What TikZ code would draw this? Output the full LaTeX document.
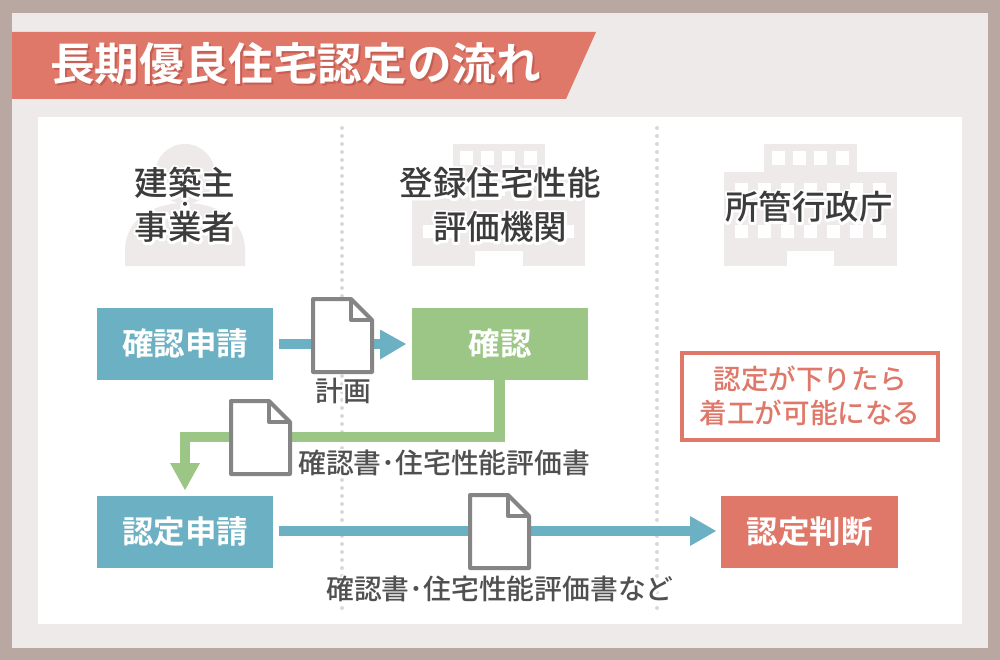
\documentclass[tikz,border=0pt]{standalone}
\usepackage{fontspec}
\setmainfont{Noto Sans CJK JP}
\newfontfamily\halofont[FakeBold=16]{Noto Sans CJK JP}
\newfontfamily\dotfont[FakeBold=20]{Noto Sans CJK JP Bold}
\newfontfamily\medfont{Noto Sans CJK JP Medium}
\newfontfamily\boldfont{Noto Sans CJK JP Bold}
\definecolor{frame}{HTML}{B9A8A2}
\definecolor{panel}{HTML}{EEEAE9}
\definecolor{salmon}{HTML}{DF7869}
\definecolor{shadowc}{HTML}{C55F54}
\definecolor{tealc}{HTML}{6CB1C3}
\definecolor{greenc}{HTML}{9CC686}
\definecolor{docgray}{HTML}{858585}
\definecolor{ink}{HTML}{3C3C3C}
\definecolor{labelc}{HTML}{505050}
\definecolor{dotc}{HTML}{DDD7D6}
\newcommand{\halotext}[1]{\leavevmode\rlap{\special{pdf:code 1 j 1 J 1 M}\halofont\color{white}#1}#1}
\tikzset{
  x=1pt,y=-1pt,
  boxn/.style={minimum width=#1,minimum height=72pt,inner sep=0pt,text=white,font=\fontsize{31.5}{32}\selectfont\boldfont},
  headlbl/.style={text=ink,inner sep=0pt,font=\fontsize{33.5}{34}\selectfont\medfont},
  lbl/.style={text=labelc,inner sep=0pt,font=\fontsize{27.8}{28}\selectfont\medfont},
  conn/.style={line width=10.5pt},
  docline/.style={draw=docgray,line width=4pt,line join=round,fill=white},
  vdot/.style={draw=dotc,line width=4pt,line cap=round,dash pattern=on 0pt off 8pt},
  titlefont/.style={anchor=west,inner sep=0pt,font=\fontsize{44.6}{45}\selectfont\boldfont},
}
\newcommand{\doc}[2]{%
 \begin{scope}[shift={(#1,#2)}]
  \draw[docline] (0,0) -- (38,0) -- (59,21) -- (59,73) -- (0,73) -- cycle;
  \draw[docline,fill=none] (38,0) -- (38,21) -- (59,21);
 \end{scope}}
\begin{document}
\begin{tikzpicture}
\useasboundingbox (0,0) rectangle (1000,660);
\fill[frame] (0,0) rectangle (1000,660);
\fill[panel] (12,13) rectangle (988,648);
\fill[white] (38,117) rectangle (962,624);
% title
\fill[salmon] (12,32) -- (596,32) -- (566,99) -- (12,99) -- cycle;
\node[titlefont,text=white] (title) at (50,65) {\leavevmode\rlap{\hspace*{2pt}\raisebox{-2pt}{\color{shadowc}長期優良住宅認定の流れ}}長期優良住宅認定の流れ};
% dotted
\coordinate (d1a) at (342,128); \coordinate (d1b) at (342,612);
\coordinate (d2a) at (657,128); \coordinate (d2b) at (657,612);
\draw[vdot] (d1a) -- (d1b);
\draw[vdot] (d2a) -- (d2b);
% person icon
\fill[panel] (185,174) circle (30pt);
\fill[panel] (125,266) -- (125,250) .. controls (125,222) and (150,203) .. (185,203) .. controls (220,203) and (245,222) .. (245,250) -- (245,266) -- cycle;
% building icons
\foreach \bx in {412,723.5}{
 \begin{scope}[shift={(\bx,0)}]
  \fill[panel] (40.5,144) rectangle (133,172);
  \fill[panel] (0,172) rectangle (173,266);
  \fill[white] (63,266) rectangle (110.5,251);
  \foreach \wx in {48,69,90,112} \fill[white] (\wx,151) rectangle ++(13,14);
  \foreach \wx in {11,34,57,80,103,126,149}{
    \fill[white] (\wx,183) rectangle ++(13,13);
    \fill[white] (\wx,225) rectangle ++(13,13);}
 \end{scope}}
% headings
\node[headlbl] (h1a) at (185,183) {\halotext{建築主}};
\node[headlbl] (h1b) at (185,227) {\halotext{事業者}};
\fill[white] (185,206) circle (5pt);
\node[text=ink,inner sep=0pt,font=\fontsize{10}{10}\selectfont\dotfont] (h1dot) at (185,205) {\special{pdf:code 1 j 1 J 1 M}・};
\node[headlbl] (h2a) at (500,183) {\halotext{登録住宅性能}};
\node[headlbl] (h2b) at (500,227) {\halotext{評価機関}};
\node[headlbl] (h3) at (809,207) {\halotext{所管行政庁}};
% boxes
\node[boxn=176pt,fill=tealc] (a) at (185,343.5) {確認申請};
\node[boxn=176pt,fill=greenc] (b) at (500,343.5) {確認};
\node[boxn=176pt,fill=tealc] (c) at (185,532) {認定申請};
\node[boxn=177pt,fill=salmon] (d) at (809.5,532) {認定判断};
% note
\node[draw=salmon,line width=4pt,fill=white,minimum width=256pt,minimum height=87pt,inner sep=0pt,text=salmon,align=center,font=\fontsize{27.6}{34}\selectfont\medfont] (n) at (810,396) {認定が下りたら\\着工が可能になる};
% connectors
\coordinate (a1) at (279,344);
\coordinate (a2) at (406,344);
\draw[conn,tealc] (a1) -- (382,344);
\fill[tealc] (a2) -- (380,329.5) -- (380,359.5) -- cycle;
\coordinate (g1) at (499.5,380);
\draw[greenc,conn] (g1) -- (499.5,437) -- (185,437) -- (185,465);
\fill[greenc] (185,490) -- (170,463) -- (200,463) -- cycle;
\coordinate (t1) at (279,531);
\coordinate (t2) at (716,531);
\draw[conn,tealc] (t1) -- (692,531);
\fill[tealc] (t2) -- (690,516) -- (690,546) -- cycle;
% documents
\doc{313}{299}
\doc{231}{401}
\doc{470}{495}
% labels
\node[lbl] (l1) at (343,391) {\halotext{計画}};
\node[lbl,anchor=west] (l2) at (298,463) {\halotext{確認書･住宅性能評価書}};
\node[lbl] (l3) at (500,589) {\halotext{確認書･住宅性能評価書など}};
\end{tikzpicture}
\end{document}
